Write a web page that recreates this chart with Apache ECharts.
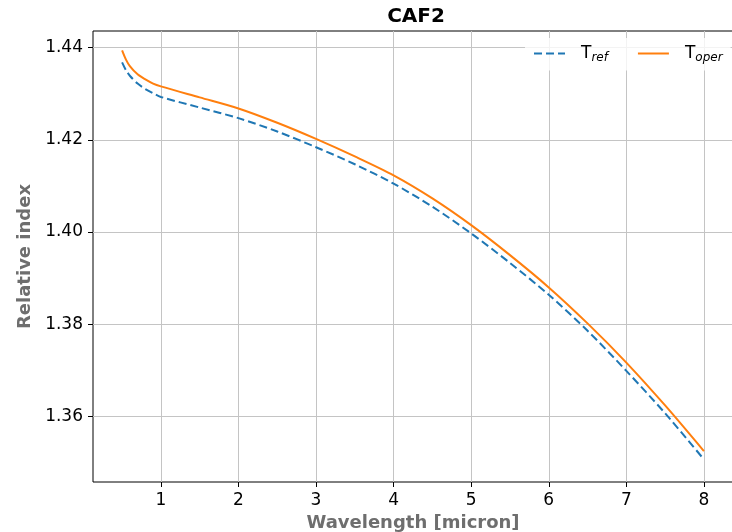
<!DOCTYPE html>
<html>
<head>
<meta charset="utf-8">
<script src="https://cdn.jsdelivr.net/npm/echarts@6/dist/echarts.min.js"></script>
<style>
  html, body { margin: 0; padding: 0; background: #fff; }
  #chart { width: 732px; height: 532px; }
</style>
</head>
<body>
<div id="chart"></div>
<script>
// wavelength samples [micron]
const wavelength = [0.5, 0.55, 0.6, 0.7, 0.8, 0.9, 1.0, 1.5, 2.0, 2.5, 3.0, 3.5, 4.0, 4.5, 5.0, 5.5, 6.0, 6.5, 7.0, 7.5, 8.0]
// relative index at reference temperature
const nRef = [1.4368, 1.4351, 1.4339, 1.4322, 1.4310, 1.4301, 1.4293, 1.4270, 1.4247, 1.4218, 1.4184, 1.4147, 1.4105, 1.4055, 1.3997, 1.3933, 1.3864, 1.3786, 1.3699, 1.3607, 1.3507]
// relative index at operating temperature
const nOper = [1.4394, 1.4374, 1.4360, 1.4342, 1.4331, 1.4322, 1.4316, 1.4292, 1.4268, 1.4237, 1.4202, 1.4164, 1.4123, 1.4073, 1.4015, 1.3950, 1.3880, 1.3802, 1.3717, 1.3624, 1.3525]
const xTicks = [1, 2, 3, 4, 5, 6, 7, 8]
const yTicks = [1.36, 1.38, 1.40, 1.42, 1.44]
const seriesNames = ['T_ref', 'T_oper']

const font = 'DejaVu Sans'
const chart = echarts.init(document.getElementById('chart'))

const option = {
  animation: false,
  title: {
    text: 'CAF2',
    left: 411,
    top: 2,
    textAlign: 'center',
    textStyle: { fontFamily: font, fontSize: 20, fontWeight: 'bold', color: '#000' },
  },
  legend: {
    left: 525,
    top: 38,
    padding: [7, 8],
    itemWidth: 31,
    itemHeight: 12,
    itemGap: 29,
    backgroundColor: 'rgba(255,255,255,0.8)',
    itemStyle: { opacity: 0 },
    data: seriesNames,
    formatter: (name) => 'T{s|' + name.split('_')[1] + '}',
    textStyle: {
      fontFamily: font,
      fontSize: 17,
      color: '#000',
      padding: [0, 0, 0, 11],
      rich: {
        s: { fontFamily: font, fontSize: 12, fontStyle: 'italic', color: '#000', padding: [8, 0, 0, 0] },
      },
    },
  },
  grid: {
    left: 93,
    right: -1,
    top: 31,
    bottom: 50,
    outerBoundsMode: 'none',
    show: true,
    borderColor: '#000',
    borderWidth: 1,
  },
  xAxis: {
    type: 'value',
    min: 0.125,
    max: 8.375,
    name: 'Wavelength [micron]',
    nameLocation: 'middle',
    nameGap: 30,
    nameTextStyle: { fontFamily: font, fontSize: 18, fontWeight: 'bold', color: '#6e6e6e' },
    axisLine: { show: false },
    axisTick: { show: true, length: 5, customValues: xTicks, lineStyle: { color: '#000' } },
    axisLabel: { customValues: xTicks, margin: 10, fontFamily: font, fontSize: 17, color: '#000' },
    splitLine: { show: true, lineStyle: { color: '#c4c4c4', width: 1 } },
  },
  yAxis: {
    type: 'value',
    min: 1.3458,
    max: 1.4436,
    name: 'Relative index',
    nameLocation: 'middle',
    nameGap: 55,
    nameTextStyle: { fontFamily: font, fontSize: 18, fontWeight: 'bold', color: '#6e6e6e' },
    axisLine: { show: false },
    axisTick: { show: true, length: 5, customValues: yTicks, lineStyle: { color: '#000' } },
    axisLabel: {
      customValues: yTicks,
      margin: 10,
      fontFamily: font,
      fontSize: 17,
      color: '#000',
      formatter: (v) => v.toFixed(2),
    },
    splitLine: { show: true, lineStyle: { color: '#c4c4c4', width: 1 } },
  },
  series: [
    {
      name: seriesNames[0],
      type: 'line',
      symbol: 'none',
      smooth: 0.3,
      color: '#1f77b4',
      lineStyle: { width: 2, type: [8, 4] },
      data: wavelength.map((w, i) => [w, nRef[i]]),
    },
    {
      name: seriesNames[1],
      type: 'line',
      symbol: 'none',
      smooth: 0.3,
      color: '#ff7f0e',
      lineStyle: { width: 2 },
      data: wavelength.map((w, i) => [w, nOper[i]]),
    },
  ],
}

chart.setOption(option)
</script>
</body>
</html>
